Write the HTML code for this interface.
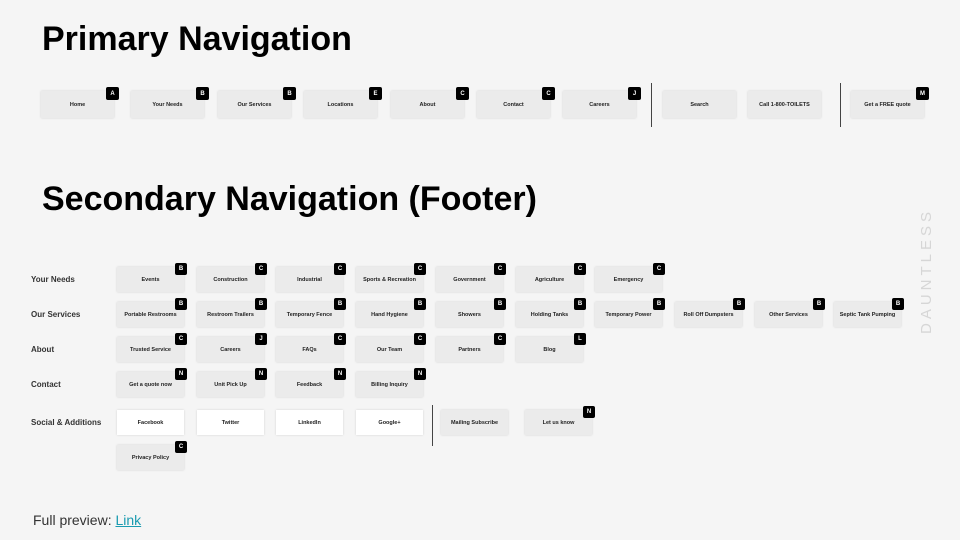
<!DOCTYPE html>
<html><head><meta charset="utf-8"><style>
body{margin:0;width:960px;height:540px;background:#f5f5f5;font-family:"Liberation Sans",sans-serif;position:relative;overflow:hidden}
.t{position:absolute;left:42px;font-size:34px;color:#000;margin:0;font-weight:600}
.b{position:absolute;background:#ebebeb;box-shadow:0 0 2px rgba(0,0,0,.15);font-size:5.5px;font-weight:bold;color:#222;display:flex;align-items:center;justify-content:center;text-align:center;white-space:nowrap}
.p{width:73px;height:27px}
.s{width:67px;height:25px}
.w{background:#fff}
.g{position:absolute;background:#000;color:#fff;font-size:6px;display:flex;align-items:center;justify-content:center;border-radius:2px}
.p .g{width:13px;height:13px;right:-5px;top:-4px}
.s .g{width:12px;height:12px;right:-3px;top:-4px}
.l{position:absolute;left:31px;font-size:8px;font-weight:bold;color:#333}
.d{position:absolute;width:1px;background:#444}
</style></head><body>
<div class="t" style="top:20px">Primary Navigation</div>
<div class="t" style="top:180px">Secondary Navigation (Footer)</div>

<div class="b p" style="left:41px;top:91px">Home<div class="g">A</div></div>
<div class="b p" style="left:131px;top:91px">Your Needs<div class="g">B</div></div>
<div class="b p" style="left:218px;top:91px">Our Services<div class="g">B</div></div>
<div class="b p" style="left:304px;top:91px">Locations<div class="g">E</div></div>
<div class="b p" style="left:391px;top:91px">About<div class="g">C</div></div>
<div class="b p" style="left:477px;top:91px">Contact<div class="g">C</div></div>
<div class="b p" style="left:563px;top:91px">Careers<div class="g">J</div></div>
<div class="d" style="left:651px;top:83px;height:44px"></div>
<div class="b p" style="left:663px;top:91px">Search</div>
<div class="b p" style="left:748px;top:91px">Call 1-800-TOILETS</div>
<div class="d" style="left:840px;top:83px;height:44px"></div>
<div class="b p" style="left:851px;top:91px">Get a FREE quote<div class="g">M</div></div>

<div class="l" style="top:275px">Your Needs</div>
<div class="l" style="top:310px">Our Services</div>
<div class="l" style="top:345px">About</div>
<div class="l" style="top:380px">Contact</div>
<div class="l" style="top:418px">Social &amp; Additions</div>

<div class="b s" style="left:117px;top:267px">Events<div class="g">B</div></div>
<div class="b s" style="left:197px;top:267px">Construction<div class="g">C</div></div>
<div class="b s" style="left:276px;top:267px">Industrial<div class="g">C</div></div>
<div class="b s" style="left:356px;top:267px">Sports &amp; Recreation<div class="g">C</div></div>
<div class="b s" style="left:436px;top:267px">Government<div class="g">C</div></div>
<div class="b s" style="left:516px;top:267px">Agriculture<div class="g">C</div></div>
<div class="b s" style="left:595px;top:267px">Emergency<div class="g">C</div></div>

<div class="b s" style="left:117px;top:302px">Portable Restrooms<div class="g">B</div></div>
<div class="b s" style="left:197px;top:302px">Restroom Trailers<div class="g">B</div></div>
<div class="b s" style="left:276px;top:302px">Temporary Fence<div class="g">B</div></div>
<div class="b s" style="left:356px;top:302px">Hand Hygiene<div class="g">B</div></div>
<div class="b s" style="left:436px;top:302px">Showers<div class="g">B</div></div>
<div class="b s" style="left:516px;top:302px">Holding Tanks<div class="g">B</div></div>
<div class="b s" style="left:595px;top:302px">Temporary Power<div class="g">B</div></div>
<div class="b s" style="left:675px;top:302px">Roll Off Dumpsters<div class="g">B</div></div>
<div class="b s" style="left:755px;top:302px">Other Services<div class="g">B</div></div>
<div class="b s" style="left:834px;top:302px">Septic Tank Pumping<div class="g">B</div></div>

<div class="b s" style="left:117px;top:337px">Trusted Service<div class="g">C</div></div>
<div class="b s" style="left:197px;top:337px">Careers<div class="g">J</div></div>
<div class="b s" style="left:276px;top:337px">FAQs<div class="g">C</div></div>
<div class="b s" style="left:356px;top:337px">Our Team<div class="g">C</div></div>
<div class="b s" style="left:436px;top:337px">Partners<div class="g">C</div></div>
<div class="b s" style="left:516px;top:337px">Blog<div class="g">L</div></div>

<div class="b s" style="left:117px;top:372px">Get a quote now<div class="g">N</div></div>
<div class="b s" style="left:197px;top:372px">Unit Pick Up<div class="g">N</div></div>
<div class="b s" style="left:276px;top:372px">Feedback<div class="g">N</div></div>
<div class="b s" style="left:356px;top:372px">Billing Inquiry<div class="g">N</div></div>

<div class="b s w" style="left:117px;top:410px">Facebook</div>
<div class="b s w" style="left:197px;top:410px">Twitter</div>
<div class="b s w" style="left:276px;top:410px">LinkedIn</div>
<div class="b s w" style="left:356px;top:410px">Google+</div>
<div class="d" style="left:432px;top:405px;height:41px"></div>
<div class="b s" style="left:441px;top:410px">Mailing Subscribe</div>
<div class="b s" style="left:525px;top:410px">Let us know<div class="g">N</div></div>

<div class="b s" style="left:117px;top:445px">Privacy Policy<div class="g">C</div></div>

<div style="position:absolute;left:918px;top:334px;transform:rotate(-90deg);transform-origin:0 0;font-size:15px;letter-spacing:4px;color:#d6d6d6;white-space:nowrap">DAUNTLESS</div>

<div style="position:absolute;left:33px;top:512px;font-size:14px;color:#333">Full preview: <span style="color:#1a9bb0;text-decoration:underline">Link</span></div>
</body></html>
